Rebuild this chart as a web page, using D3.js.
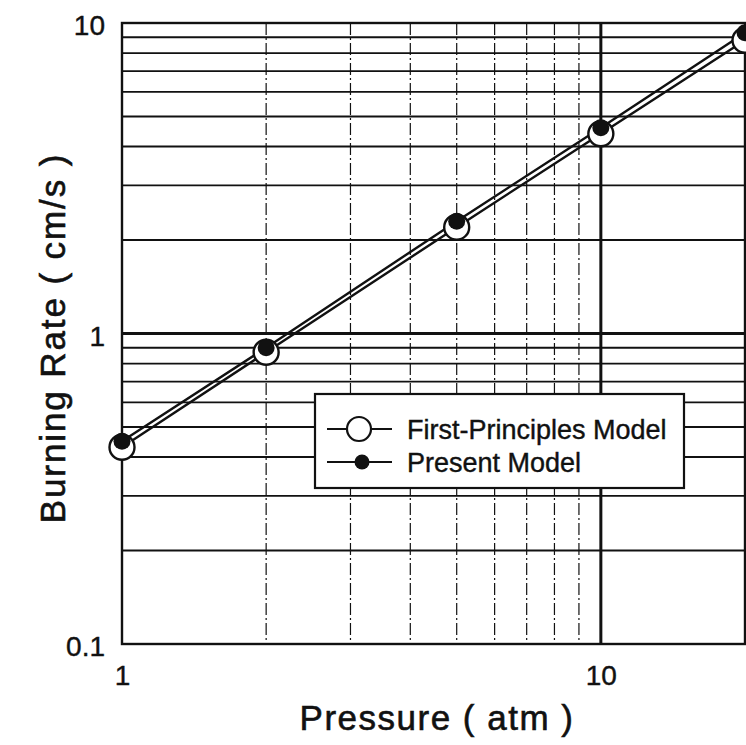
<!DOCTYPE html>
<html>
<head>
<meta charset="utf-8">
<script src="https://cdn.jsdelivr.net/npm/d3@7"></script>
<style>
  body { margin: 0; background: #fff; }
  svg { display: block; font-family: "Liberation Sans", Arial, Helvetica, sans-serif; }
  .tick text { font-size: 28px; fill: #111; stroke: #111; stroke-width: 0.4px; }
  .title { fill: #111; stroke: #111; stroke-width: 0.6px; }
</style>
</head>
<body>
<script>
// data
var pressure = [1, 2, 5, 10, 20];
var firstPrinciples = [0.43, 0.87, 2.2, 4.4, 8.8];
var presentModel = [0.45, 0.90, 2.3, 4.6, 9.3];
var xTicks = [1, 10];
var yTicks = [0.1, 1, 10];
var seriesNames = ["First-Principles Model", "Present Model"];

var margin = {top: 23, right: 1, bottom: 101, left: 122},
    width = 746 - margin.left - margin.right,
    height = 745 - margin.top - margin.bottom;

var xScale = d3.scaleLog().domain([1, 20]).range([0, width]);
var yScale = d3.scaleLog().domain([0.1, 10]).range([height, 0]);

var svg = d3.select("body").append("svg")
    .attr("width", 746)
    .attr("height", 745);

var g = svg.append("g")
    .attr("transform", "translate(" + margin.left + "," + margin.top + ")");

// horizontal grid (solid), heavier at 1
g.selectAll(".hgrid")
  .data(yScale.ticks())
  .enter()
  .append("line")
  .attr("class", "hgrid")
  .attr("x1", 0)
  .attr("x2", width)
  .attr("y1", d => yScale(d))
  .attr("y2", d => yScale(d))
  .attr("stroke", "#111")
  .attr("stroke-width", d => d === 1 ? 2.8 : 1.9);

// vertical grid (dash-dot), solid & heavy at 10
g.selectAll(".vgrid")
  .data(xScale.ticks().filter(d => d > 1 && d <= 20))
  .enter()
  .append("line")
  .attr("class", "vgrid")
  .attr("x1", d => xScale(d))
  .attr("x2", d => xScale(d))
  .attr("y1", 0)
  .attr("y2", height)
  .attr("stroke", "#111")
  .attr("stroke-width", d => d === 10 ? 3 : 1.2)
  .attr("stroke-dasharray", d => d === 10 ? null : "12,3,2,3");

// frame
g.append("rect")
  .attr("width", width)
  .attr("height", height)
  .attr("fill", "none")
  .attr("stroke", "#111")
  .attr("stroke-width", 2.4);

// axes (labels only)
var xAxis = d3.axisBottom(xScale).tickValues(xTicks).tickFormat(d3.format("d"))
    .tickSize(0).tickPadding(21);
var yAxis = d3.axisLeft(yScale).tickValues(yTicks).tickFormat(d => d < 1 ? "0.1" : d3.format("d")(d))
    .tickSize(0).tickPadding(17);

g.append("g")
  .attr("transform", "translate(0," + height + ")")
  .call(xAxis)
  .call(a => a.select(".domain").remove())
  .selectAll("text").attr("font-family", null).attr("font-size", null);

g.append("g")
  .call(yAxis)
  .call(a => a.select(".domain").remove())
  .selectAll("text").attr("font-family", null).attr("font-size", null).attr("dy", "0.42em");

// axis titles
svg.append("text")
  .attr("class", "title")
  .attr("x", 437)
  .attr("y", 730)
  .attr("text-anchor", "middle")
  .style("font-size", "35px")
  .style("letter-spacing", "1.5px")
  .text("Pressure  ( atm )");

svg.append("text")
  .attr("class", "title")
  .attr("transform", "translate(65,338) rotate(-90)")
  .attr("text-anchor", "middle")
  .style("font-size", "35px")
  .style("letter-spacing", "1.9px")
  .text("Burning Rate  ( cm/s )");

// series lines
var line = d3.line()
    .x(d => xScale(d[0]))
    .y(d => yScale(d[1]));

var fpData = pressure.map((p, i) => [p, firstPrinciples[i]]);
var pmData = pressure.map((p, i) => [p, presentModel[i]]);

[fpData, pmData].forEach(function(s) {
  g.append("path")
    .attr("d", line(s))
    .attr("fill", "none")
    .attr("stroke", "#111")
    .attr("stroke-width", 2.4);
});

// markers
g.selectAll(".open")
  .data(fpData)
  .enter()
  .append("circle")
  .attr("class", "open")
  .attr("cx", d => xScale(d[0]))
  .attr("cy", d => yScale(d[1]))
  .attr("r", 12.5)
  .attr("fill", "#fff")
  .attr("stroke", "#111")
  .attr("stroke-width", 2.4);

g.selectAll(".filled")
  .data(pmData)
  .enter()
  .append("circle")
  .attr("class", "filled")
  .attr("cx", d => xScale(d[0]))
  .attr("cy", d => yScale(d[1]))
  .attr("r", 8.5)
  .attr("fill", "#111");

// legend
var legend = svg.append("g").attr("transform", "translate(315,394)");
legend.append("rect")
  .attr("width", 369)
  .attr("height", 94)
  .attr("fill", "#fff")
  .attr("stroke", "#111")
  .attr("stroke-width", 2.2);

seriesNames.forEach(function(name, i) {
  var row = legend.append("g").attr("transform", "translate(0," + (35 + i * 33) + ")");
  row.append("line")
    .attr("x1", 12).attr("x2", 77)
    .attr("stroke", "#111").attr("stroke-width", 2.2);
  if (i === 0) {
    row.append("circle").attr("cx", 44).attr("r", 12)
      .attr("fill", "#fff").attr("stroke", "#111").attr("stroke-width", 2.2);
  } else {
    row.append("circle").attr("cx", 47).attr("r", 7.5).attr("fill", "#111");
  }
  row.append("text")
    .attr("class", "title")
    .attr("x", 92)
    .attr("y", 9.5)
    .style("font-size", "27px")
    .style("stroke-width", "0.4px")
    .text(name);
});
</script>
</body>
</html>
